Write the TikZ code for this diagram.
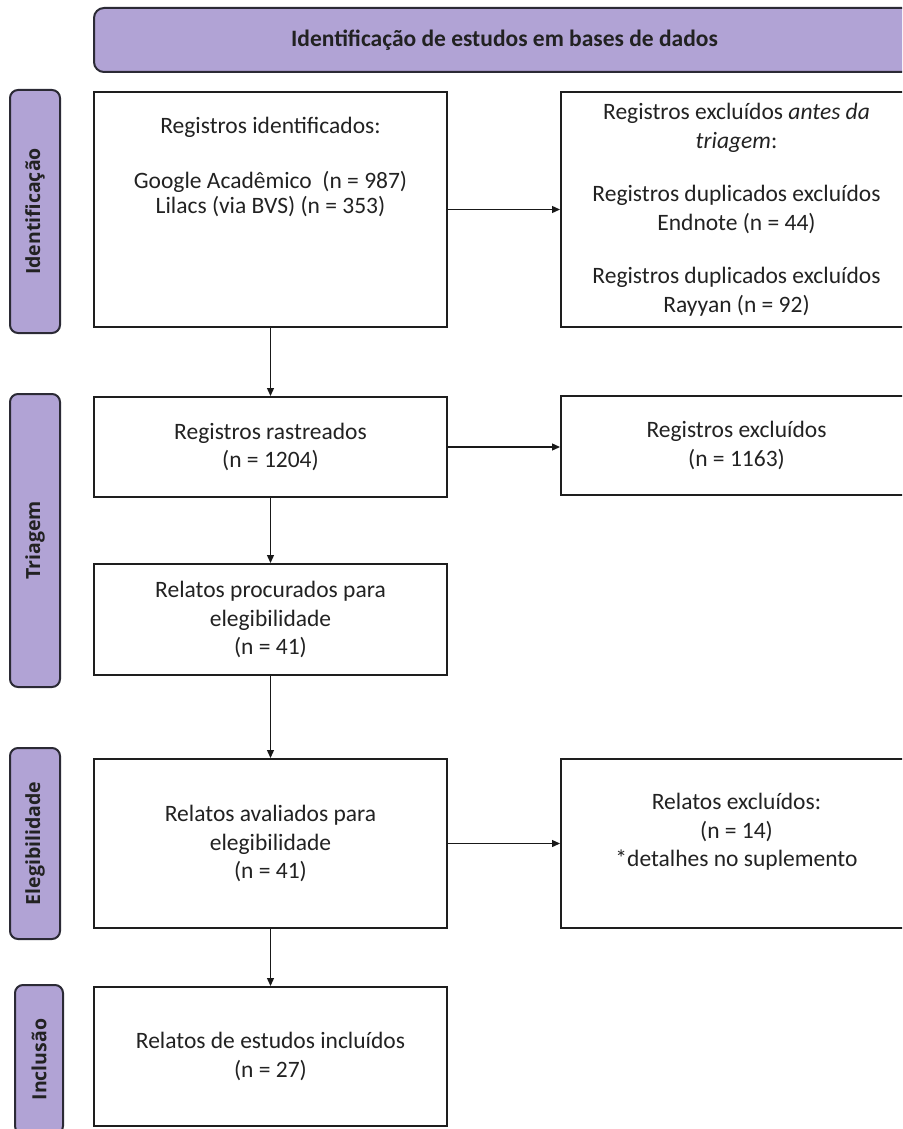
\documentclass[tikz,border=0pt]{standalone}
\usepackage{fontspec}
\setmainfont{Carlito}
\newfontfamily\labfont{Open Sans}
\usetikzlibrary{arrows.meta}
\definecolor{lav}{HTML}{B1A3D5}
\definecolor{edgec}{HTML}{2B2A35}
\definecolor{boxedge}{HTML}{1E1E1E}
\definecolor{txtc}{HTML}{222222}
\begin{document}
\begin{tikzpicture}[x=1pt,y=-1pt,
  box/.style={draw=boxedge, line width=2pt, fill=white, align=center, text=txtc,
    font=\fontsize{23.5}{28.5}\selectfont, inner sep=0pt},
  txt/.style={align=center, text=txtc, inner sep=0pt},
  lab/.style={draw=edgec, line width=2pt, fill=lav, rounded corners=8pt, inner sep=0pt,
    rotate=90, text=txtc, font=\labfont\bfseries\fontsize{19.5}{22}\selectfont},
  head/.style={draw=edgec, line width=2pt, fill=lav, rounded corners=10pt, inner sep=0pt,
    text=txtc, font=\bfseries\fontsize{23.5}{28}\selectfont},
  arr/.style={line width=1.3pt, draw=black!90, -{Triangle[length=8pt,width=7pt]}}
]
\useasboundingbox (0,0) rectangle (902,1129);
\begin{scope}
\clip (0,0) rectangle (902,1129);
% header
\node[head, minimum width=821, minimum height=64] (hd) at (504.5,40)
  {Identificação de estudos em bases de dados};
% side labels
\node[lab, minimum width=243, minimum height=50] (l1) at (35,211.5) {Identificação};
\node[lab, minimum width=293, minimum height=50] (l2) at (35,540.5) {Triagem};
\node[lab, minimum width=191, minimum height=50] (l3) at (35,843.5) {Elegibilidade};
\node[lab, minimum width=149, minimum height=48] (l4) at (39,1059.5) {Inclusão};
% boxes
\node[box, minimum width=353, minimum height=235] (b1) at (270.5,209.5) {};
\node[txt, anchor=north, font=\fontsize{23.5}{25}\selectfont] (t1) at (270.5,116.5)
  {Registros identificados:\\[30pt]
   Google Acadêmico\ \ (n = 987)\\
   Lilacs (via BVS) (n = 353)};
\node[box, minimum width=351, minimum height=235] (b2) at (736.5,209.5)
  {Registros excluídos \textit{antes da}\\
   \textit{triagem}:\\[25pt]
   Registros duplicados excluídos\\
   Endnote (n = 44)\\[25pt]
   Registros duplicados excluídos\\
   Rayyan (n = 92)};
\node[box, minimum width=353, minimum height=100] (b3) at (270.5,447)
  {Registros rastreados\\ (n = 1204)};
\node[box, minimum width=351, minimum height=99] (b4) at (736.5,445.5)
  {Registros excluídos\\ (n = 1163)};
\node[box, minimum width=353, minimum height=111] (b5) at (270.5,619.5)
  {Relatos procurados para\\ elegibilidade\\ (n = 41)};
\node[box, minimum width=353, minimum height=169] (b6) at (270.5,843.5)
  {Relatos avaliados para\\ elegibilidade\\ (n = 41)};
\node[box, minimum width=351, minimum height=169] (b7) at (736.5,843.5) {};
\node[txt, font=\fontsize{23.5}{28.5}\selectfont] (t7) at (736.5,832)
  {Relatos excluídos:\\ (n = 14)\\ *detalhes no suplemento};
\node[box, minimum width=353, minimum height=139] (b8) at (270.5,1056.5)
  {Relatos de estudos incluídos\\ (n = 27)};
% connectors
\draw[arr] (b1.east) -- (b2.west);
\draw[arr] (b1.south) -- (b3.north);
\draw[arr] (b3.east) -- (b3.east -| b4.west);
\draw[arr] (b3.south) -- (b5.north);
\draw[arr] (b5.south) -- (b6.north);
\draw[arr] (b6.east) -- (b6.east -| b7.west);
\draw[arr] (b6.south) -- (b8.north);
\end{scope}
\end{tikzpicture}
\end{document}
